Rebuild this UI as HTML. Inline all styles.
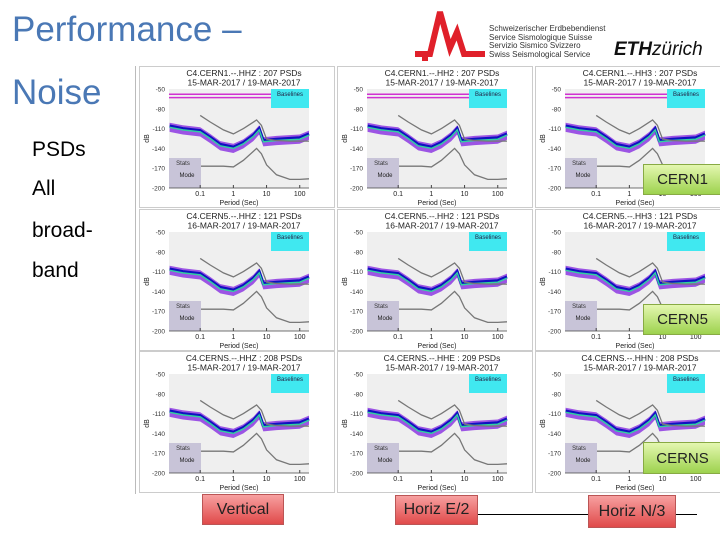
<!DOCTYPE html>
<html><head><meta charset="utf-8">
<style>
body{margin:0;width:720px;height:540px;background:#fff;position:relative;overflow:hidden;font-family:"Liberation Sans",sans-serif}
.t{position:absolute;white-space:nowrap}
.lbl{position:absolute;border:1px solid #b55;background:linear-gradient(#f7a0a0,#e04a4a);font-size:16px;color:#222;display:flex;align-items:center;justify-content:center}
.grn{position:absolute;border:1px solid #8a4;background:linear-gradient(#e4f7b0,#9dd24e);font-size:15px;color:#222;display:flex;align-items:center;justify-content:center}
</style></head><body>
<div class="t" style="left:12px;top:10px;font-size:35px;color:#4a78b5">Performance –</div>
<div class="t" style="left:12px;top:73px;font-size:35px;color:#4a78b5">Noise</div>
<div class="t" style="left:32px;top:138px;font-size:21px">PSDs</div>
<div class="t" style="left:32px;top:177px;font-size:21px">All</div>
<div class="t" style="left:32px;top:219px;font-size:21px">broad-</div>
<div class="t" style="left:32px;top:259px;font-size:21px">band</div>

<svg style="position:absolute;left:410px;top:8px" width="80" height="58">
<polyline points="5,46 20,46 30,4 40,40 47,24 54,46 75,46" fill="none" stroke="#e0202a" stroke-width="6" stroke-linejoin="miter"/>
<rect x="12" y="47" width="6" height="6" fill="#e0202a"/></svg>
<div class="t" style="left:489px;top:25px;font-size:8px;line-height:8.5px;color:#333">Schweizerischer Erdbebendienst<br>Service Sismologique Suisse<br>Servizio Sismico Svizzero<br>Swiss Seismological Service</div>
<div class="t" style="left:614px;top:39px;font-size:19px;color:#111"><b><i>ETH</i></b><i>zürich</i></div>

<div style="position:absolute;left:135px;top:66px;width:1px;height:428px;background:#bbb"></div>
<div id="panels"></div>

<div style="position:absolute;left:477px;top:514px;width:220px;height:1px;background:#000"></div>
<div class="lbl" style="left:202px;top:494px;width:80px;height:29px">Vertical</div>
<div class="lbl" style="left:395px;top:495px;width:81px;height:28px">Horiz E/2</div>
<div class="lbl" style="left:588px;top:495px;width:86px;height:31px">Horiz N/3</div>
<div class="grn" style="left:643px;top:164px;width:77px;height:29px">CERN1</div>
<div class="grn" style="left:643px;top:304px;width:77px;height:29px">CERN5</div>
<div class="grn" style="left:643px;top:442px;width:77px;height:30px">CERNS</div>

<script>
const stations=["CERN1","CERN5","CERNS"];
const chans=[["HHZ","HH2","HH3"],["HHZ","HH2","HH3"],["HHZ","HHE","HHN"]];
const counts=[[207,207,207],[121,121,121],[208,209,208]];
const dates=["15-MAR-2017 / 19-MAR-2017","16-MAR-2017 / 19-MAR-2017","15-MAR-2017 / 19-MAR-2017"];
const yTicks=[-50,-80,-110,-140,-170,-200];
const xTicks=[0.1,1,10,100];
const xTickLabels=["0.1","1","10","100"];
const hiPeriods=[0.1,0.2,0.5,1,2,5,7,10,20,50,190];
const hiDb=[-90,-100,-112,-118,-110,-97,-105,-126,-128,-129,-129];
const loPeriods=[0.1,0.5,1,2,5,7,10,20,50,100,190];
const loDb=[-167,-167,-168,-158,-140,-148,-165,-180,-187,-187,-186];
const modePeriods=[0.012,0.03,0.1,0.2,0.4,1,2,4,6,8,20,100,190];
const modeDb=[-108,-112,-115,-125,-136,-140,-133,-122,-112,-130,-128,-126,-120];
const baseDb=[-58,-63];

const NS="http://www.w3.org/2000/svg";
const host=document.getElementById('panels');
const PW=196,PH=142,L=30,R=170,T=23,B=122;
const lx0=Math.log10(0.0115),lx1=Math.log10(190);
function xs(p){return L+(Math.log10(p)-lx0)/(lx1-lx0)*(R-L);}
function ys(d){return T+(-50-d)/150*(B-T);}
function mk(tag,attrs,parent){const e=document.createElementNS(NS,tag);for(const k in attrs)e.setAttribute(k,attrs[k]);parent.appendChild(e);return e;}
function pts(P,D,off){return P.map((p,i)=>xs(p).toFixed(1)+","+ys(D[i]+(off||0)).toFixed(1)).join(" ");}
for(let r=0;r<3;r++)for(let c=0;c<3;c++){
  const svg=document.createElementNS(NS,'svg');
  
  
  svg.setAttribute('width',PW);svg.setAttribute('height',PH);
  svg.style.cssText='position:absolute;left:'+(139+c*198)+'px;top:'+(66+r*142.5)+'px;font-family:"Liberation Sans",sans-serif';
  host.appendChild(svg);
  mk('rect',{x:0.5,y:0.5,width:PW-1,height:PH-1,fill:'#fff',stroke:'#ccc'},svg);
  mk('rect',{x:L,y:T,width:R-L,height:B-T,fill:'#efefef'},svg);
  const t1=mk('text',{x:(L+R)/2+5,y:10,'font-size':8.5,'text-anchor':'middle',fill:'#222'},svg);
  t1.textContent='C4.'+stations[r]+'.--.'+chans[r][c]+' : '+counts[r][c]+' PSDs';
  const t2=mk('text',{x:(L+R)/2+5,y:19.5,'font-size':8.5,'text-anchor':'middle',fill:'#222'},svg);
  t2.textContent=dates[r];
  if(r===0){baseDb.forEach(d=>{const l=mk('line',{x1:L,x2:R,y1:ys(d),y2:ys(d),stroke:'#d030d0','stroke-width':1.5},svg);});}
  const band=mk('polygon',{points:pts(modePeriods,modeDb,-7)+" "+pts(modePeriods.slice().reverse(),modeDb.slice().reverse(),7),fill:'#8020e0',opacity:0.75},svg);
  
  const inner=mk('polyline',{points:pts(modePeriods,modeDb,2),fill:'none',stroke:'#1010c0','stroke-width':3},svg);
  
  const mode=mk('polyline',{points:pts(modePeriods,modeDb),fill:'none',stroke:'#30d0a0','stroke-width':1.5},svg);
  
  const hi=mk('polyline',{points:pts(hiPeriods,hiDb),fill:'none',stroke:'#777','stroke-width':1.3},svg);
  
  const lo=mk('polyline',{points:pts(loPeriods,loDb),fill:'none',stroke:'#777','stroke-width':1.3},svg);
  
  const bl=mk('rect',{x:R-38,y:T,width:38,height:19,fill:'#40e8f0'},svg);
  
  const blt=mk('text',{x:R-19,y:T+7,'font-size':6,'text-anchor':'middle',fill:'#224'},svg);blt.textContent='Baselines';
  const st=mk('rect',{x:L,y:B-30,width:32,height:30,fill:'#c8c4d8'},svg);
  
  const stt=mk('text',{x:L+14,y:B-23,'font-size':6,'text-anchor':'middle',fill:'#333'},svg);stt.textContent='Stats';
  const mt=mk('text',{x:L+18,y:B-11,'font-size':6,'text-anchor':'middle',fill:'#222'},svg);mt.textContent='Mode';
  mk('line',{x1:L,x2:R,y1:B,y2:B,stroke:'#444','stroke-width':0.8},svg);
  yTicks.forEach(v=>{const tx=mk('text',{x:L-4,y:ys(v)+2.5,'font-size':6.5,'text-anchor':'end',fill:'#333'},svg);tx.textContent=v;});
  xTicks.forEach((v,i)=>{mk('line',{x1:xs(v),x2:xs(v),y1:B,y2:B-3,stroke:'#444'},svg);const tx=mk('text',{x:xs(v),y:B+8,'font-size':7,'text-anchor':'middle',fill:'#222'},svg);tx.textContent=xTickLabels[i];});
  const xl=mk('text',{x:(L+R)/2,y:B+17,'font-size':7,'text-anchor':'middle',fill:'#222'},svg);xl.textContent='Period (Sec)';
  const yl=mk('text',{x:10,y:(T+B)/2,'font-size':7,'text-anchor':'middle',fill:'#222',transform:'rotate(-90 10 '+((T+B)/2)+')'},svg);yl.textContent='dB';
}
</script>
</body></html>
